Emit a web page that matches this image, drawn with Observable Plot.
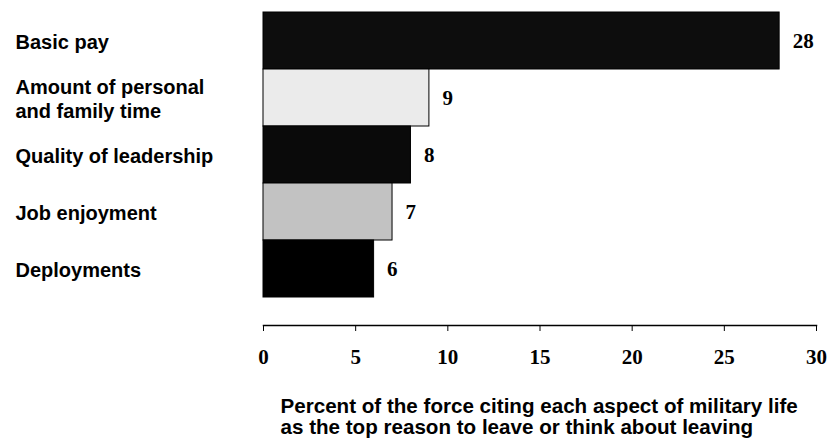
<!DOCTYPE html>
<html><head><meta charset="utf-8">
<script src="https://cdn.jsdelivr.net/npm/d3@7"></script>
<script src="https://cdn.jsdelivr.net/npm/@observablehq/plot@0.6"></script>
<style>body{margin:0;background:#fff}</style>
</head><body><div id="chart"></div>
<script>
const categories = ["Basic pay", "Amount of personal\nand family time", "Quality of leadership", "Job enjoyment", "Deployments"];
const values = [28, 9, 8, 7, 6];
const fills = ["#0d0d0d", "#ebebeb", "#0a0a0a", "#c2c2c2", "#000000"];
const xTicks = [0, 5, 10, 15, 20, 25, 30];
const axisTitle = "Percent of the force citing each aspect of military life\nas the top reason to leave or think about leaving";

const data = categories.map((c, i) => ({category: c, value: values[i], fill: fills[i]}));

const sans = "Liberation Sans, Arial, sans-serif";
const serif = "Liberation Serif, Times New Roman, serif";

const chart = Plot.plot({
  width: 828, height: 440,
  marginLeft: 263, marginRight: 12, marginTop: 12, marginBottom: 115,
  x: {domain: [0, 30], ticks: xTicks, axis: null},
  y: {domain: categories, padding: 0, insetBottom: 28, axis: null},
  style: {background: "#fff", color: "#000"},
  marks: [
    Plot.barX(data, {x: "value", y: "category", fill: "fill", stroke: "#000", strokeWidth: 1}),
    Plot.text(data, {x: "value", y: "category", text: d => String(d.value), dx: 13, textAnchor: "start",
      fontFamily: serif, fontWeight: "bold", fontSize: 21, fill: "#000"}),
    Plot.text(data, {y: "category", text: "category", frameAnchor: "left", dx: -248, textAnchor: "start",
      fontFamily: sans, fontWeight: "bold", fontSize: 20, lineHeight: 1.2, fill: "#000"}),
    Plot.frame({anchor: "bottom", stroke: "#000", strokeWidth: 1.5}),
    Plot.axisX({ticks: xTicks, tickSize: 6, tickPadding: 18, label: null,
      fontFamily: serif, fontWeight: "bold", fontSize: 21, stroke: "#000", fill: "#000"}),
    Plot.text([axisTitle], {frameAnchor: "bottom-left", textAnchor: "start", lineAnchor: "top", dx: 17, dy: 72,
      fontFamily: sans, fontWeight: "bold", fontSize: 20.6, lineHeight: 1.04, fill: "#000"})
  ]
});
document.getElementById("chart").appendChild(chart);
</script>
</body></html>
